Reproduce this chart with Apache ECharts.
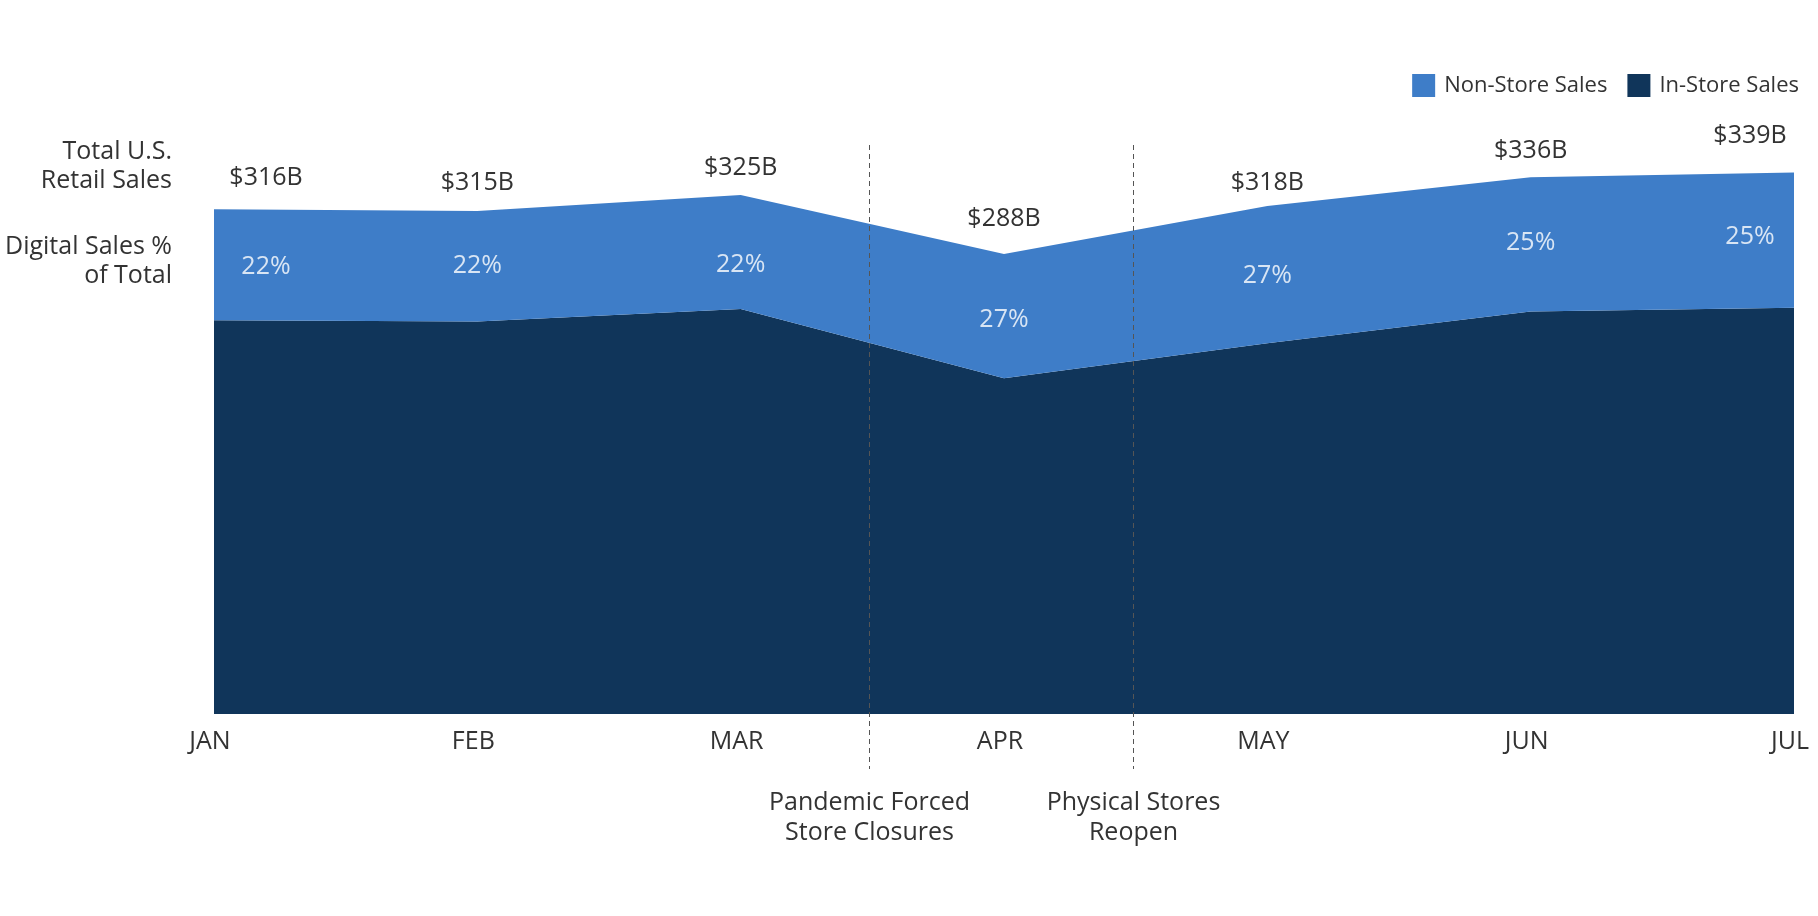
<!DOCTYPE html>
<html>
<head>
<meta charset="utf-8">
<script src="https://cdn.jsdelivr.net/npm/echarts@6/dist/echarts.min.js"></script>
<style>
html,body{margin:0;padding:0;background:#fff;}
#chart{width:1818px;height:916px;}
</style>
</head>
<body>
<div id="chart"></div>
<script>
// ---- data ----
const months = ['JAN', 'FEB', 'MAR', 'APR', 'MAY', 'JUN', 'JUL'];
const totalSales = [316, 315, 325, 288, 318, 336, 339];          // $B
const digitalPct = [22, 22, 22, 27, 27, 25, 25];                 // %
const inStoreSales = [246.5, 245.7, 253.5, 210.2, 232.1, 252.0, 254.3];
const nonStoreSales = [69.5, 69.3, 71.5, 77.8, 85.9, 84.0, 84.7];
const events = [
  { between: ['MAR', 'APR'], text: 'Pandemic Forced\nStore Closures' },
  { between: ['APR', 'MAY'], text: 'Physical Stores\nReopen' }
];
const rowTitles = ['Total U.S.\nRetail Sales', 'Digital Sales %\nof Total'];

// ---- style ----
const FONT = '"Open Sans", "Noto Sans", sans-serif';
const TEXT = '#333333';
const BLUE = '#3E7DC8';
const NAVY = '#10355A';
const labelDx = [52, 0, 0, 0, 0, 0, -44];
const valueDy = [-31, -28, -27, -35, -23, -26, -37];
const pctDy = [2, 0, 13, 4, 1, -2, -3];

const bandMid = inStoreSales.map((v, i) => v + nonStoreSales[i] / 2);

const chart = echarts.init(document.getElementById('chart'), null, { renderer: 'canvas' });

const option = {
  animation: false,
  backgroundColor: '#ffffff',
  textStyle: { fontFamily: FONT },
  grid: { left: 214, right: 24, top: 155, bottom: 202 },
  legend: {
    data: ['Non-Store Sales', 'In-Store Sales'],
    right: 14, top: 69,
    icon: 'rect', itemWidth: 23, itemHeight: 23, itemGap: 20,
    textStyle: { fontFamily: FONT, fontSize: 22, color: TEXT, padding: [0, 0, 0, 4] }
  },
  xAxis: {
    type: 'category', data: months, boundaryGap: false,
    axisLine: { show: false }, axisTick: { show: false }, splitLine: { show: false },
    axisLabel: { color: TEXT, fontSize: 25, fontFamily: FONT, margin: 15, padding: [0, 8, 0, 0] }
  },
  yAxis: {
    type: 'value', min: 0, max: 350, show: false, splitLine: { show: false }
  },
  series: [
    {
      name: 'In-Store Sales', type: 'line', stack: 'sales', data: inStoreSales,
      symbol: 'none', lineStyle: { width: 0 }, itemStyle: { color: NAVY },
      areaStyle: { color: NAVY, opacity: 1 }, silent: true
    },
    {
      name: 'Non-Store Sales', type: 'line', stack: 'sales', data: nonStoreSales,
      symbol: 'none', lineStyle: { width: 0 }, itemStyle: { color: BLUE },
      areaStyle: { color: BLUE, opacity: 1 }, silent: true
    },
    {
      name: 'pct', type: 'scatter', symbolSize: 1, silent: true,
      itemStyle: { color: 'rgba(0,0,0,0)' },
      data: bandMid.map((v, i) => ({
        value: v,
        label: { offset: [labelDx[i], pctDy[i]] }
      })),
      label: {
        show: true, position: 'inside', color: '#ffffff', fontSize: 25, fontFamily: FONT,
        textBorderWidth: 0, textBorderColor: 'transparent',
        formatter: p => digitalPct[p.dataIndex] + '%'
      },
      z: 5
    }
  ]
};
chart.setOption(option);

// annotations via library scales
const graphics = [];
totalSales.forEach((v, i) => {
  const p = chart.convertToPixel({ gridIndex: 0 }, [i, v]);
  graphics.push({
    type: 'text', silent: true, z: 10,
    x: p[0] + labelDx[i], y: p[1] + valueDy[i],
    style: {
      text: '$' + v + 'B', align: 'center', verticalAlign: 'middle',
      font: '25px ' + FONT, fill: TEXT
    }
  });
});
events.forEach(ev => {
  const a = chart.convertToPixel({ xAxisIndex: 0 }, ev.between[0]);
  const b = chart.convertToPixel({ xAxisIndex: 0 }, ev.between[1]);
  const x = Math.round((a + b) / 2 - 3) + 0.5;
  graphics.push({
    type: 'line', silent: true, z: 10,
    shape: { x1: x, y1: 145, x2: x, y2: 769 },
    style: { stroke: '#555555', lineWidth: 1, lineDash: [5, 4] }
  });
  graphics.push({
    type: 'text', silent: true, z: 10,
    x: x, y: 788,
    style: {
      text: ev.text, align: 'center', verticalAlign: 'top',
      font: '25px ' + FONT, fill: TEXT, lineHeight: 30
    }
  });
});
rowTitles.forEach((t, i) => {
  graphics.push({
    type: 'text', silent: true,
    x: 172, y: i === 0 ? 137 : 232,
    style: {
      text: t, align: 'right', verticalAlign: 'top',
      font: '25px ' + FONT, fill: TEXT, lineHeight: 29
    }
  });
});
chart.setOption({ graphic: graphics });
</script>
</body>
</html>
